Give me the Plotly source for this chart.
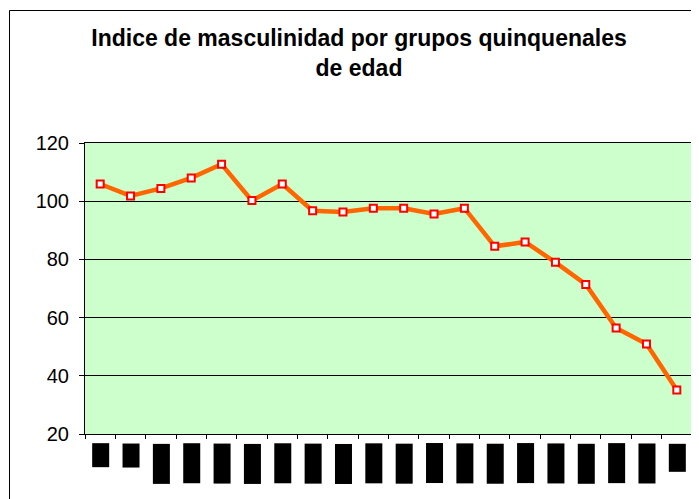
import plotly.graph_objects as go

grupos = ["0-4", "5-9", "10-14", "15-19", "20-24", "25-29", "30-34", "35-39",
          "40-44", "45-49", "50-54", "55-59", "60-64", "65-69", "70-74", "75-79",
          "80-84", "85-89", "90-94", "95+"]
indice = [105.9, 101.8, 104.4, 108.0, 112.7, 100.2, 105.9, 96.7, 96.3, 97.6,
          97.6, 95.6, 97.6, 84.5, 86.0, 79.0, 71.4, 56.4, 50.9, 35.1]
y_ticks = [20, 40, 60, 80, 100, 120]

titulo = "Indice de masculinidad por grupos quinquenales<br>de edad"

FONT = "Liberation Sans, Arial, sans-serif"

# the page body has an 8px default margin; the figure is sized to fit the window
W, H = 691, 491

fig = go.Figure()
fig.add_trace(go.Scatter(
    x=grupos, y=indice, mode="lines+markers",
    line=dict(color="#FF6600", width=4.5),
    marker=dict(symbol="square", size=7, color="white",
                line=dict(color="#FF0000", width=2)),
    showlegend=False, hoverinfo="x+y",
))

# x labels rendered as solid black blocks (as in the reference)
for g in grupos:
    fig.add_annotation(
        x=g, xref="x", y=0, yref="paper", yanchor="top", yshift=-9,
        text=g, textangle=-90, showarrow=False,
        font=dict(family=FONT, size=14.5, color="black"),
        bgcolor="black", borderpad=1, height=13.5,
    )

# outer chart border
fig.add_shape(type="rect", xref="paper", yref="paper",
              xsizemode="pixel", ysizemode="pixel", xanchor=0, yanchor=1,
              x0=-75.5, x1=640, y0=-400, y1=132.5,
              line=dict(color="black", width=1), fillcolor="rgba(0,0,0,0)",
              layer="below")

fig.update_layout(
    width=W, height=H,
    margin=dict(l=77, r=7, t=135, b=65),
    paper_bgcolor="white", plot_bgcolor="#CCFFCC",
    font=dict(family=FONT, color="black"),
    title=dict(text="<b>" + titulo + "</b>", x=351 / W, xref="container",
               xanchor="center", y=1 - 38 / H, yanchor="top",
               font=dict(family=FONT, size=23, color="black")),
    xaxis=dict(type="category", showticklabels=False, tickson="boundaries",
               ticks="outside", ticklen=4, tickcolor="black",
               showline=True, linecolor="black", linewidth=1, mirror=True,
               showgrid=False, zeroline=False, range=[-0.5, len(grupos) - 0.5]),
    yaxis=dict(range=[20, 120], tickvals=y_ticks, ticks="outside", ticklen=5,
               tickcolor="black", showline=True, linecolor="black", linewidth=1,
               mirror=True, showgrid=True, gridcolor="black", gridwidth=1,
               zeroline=False, tickfont=dict(family=FONT, size=20, color="black"),
               ticklabelstandoff=6),
)

fig.write_html("out.html")
